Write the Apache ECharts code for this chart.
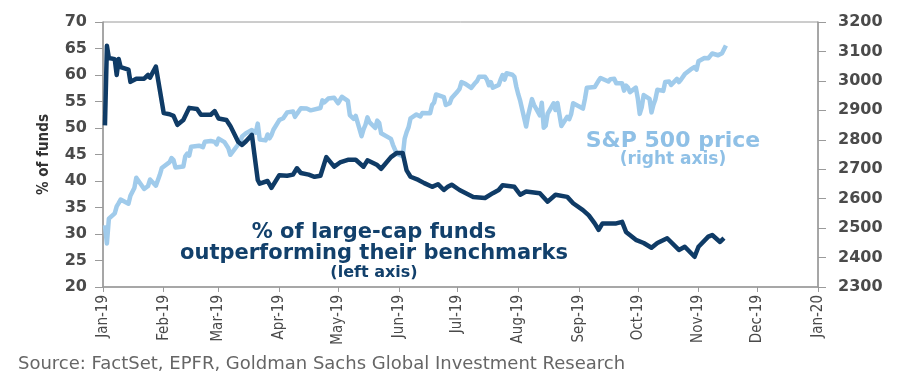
<!DOCTYPE html>
<html>
<head>
<meta charset="utf-8">
<script src="https://cdn.jsdelivr.net/npm/echarts@6/dist/echarts.min.js"></script>
<style>
html,body{margin:0;padding:0;background:#fff;}
#chart{width:914px;height:381px;}
</style>
</head>
<body>
<div id="chart"></div>
<script>
// ---- data ----
const monthNames = ['Jan','Feb','Mar','Apr','May','Jun','Jul','Aug','Sep','Oct','Nov','Dec'];
const leftTicks = [20, 70, 5];
const rightTicks = [2300, 3200, 100];

// % of large-cap funds outperforming their benchmarks (left axis)
const fundDays = ['01-02','01-03','01-04','01-07','01-08','01-09','01-10','01-14','01-15','01-18','01-22','01-24','01-25','01-28','01-30',
  '02-01','02-04','02-06','02-08','02-11','02-14','02-18','02-20','02-25','02-27',
  '03-01','03-05','03-07','03-11','03-13','03-15','03-18','03-19','03-21','03-22','03-26','03-28',
  '04-01','04-05','04-08','04-10','04-12','04-16','04-19','04-22','04-25','04-29',
  '05-02','05-06','05-10','05-14','05-16','05-21','05-23','05-28','05-31',
  '06-03','06-05','06-07','06-11','06-14','06-18','06-21','06-24','06-26','06-28',
  '07-02','07-09','07-15','07-19','07-22','07-24','07-30',
  '08-02','08-05','08-12','08-16','08-20','08-26','08-29',
  '09-03','09-06','09-09','09-11','09-13','09-20','09-23','09-25','09-30',
  '10-04','10-08','10-11','10-16','10-22','10-25','10-30',
  '11-01','11-06','11-08','11-12','11-14'];
const fundPct = [50.5,65.5,63.2,63.0,60.0,63.0,61.5,61.0,58.7,59.3,59.3,60.0,59.5,61.6,57.2,
  52.8,52.6,52.3,50.6,51.5,53.8,53.6,52.5,52.5,53.2,
  51.8,51.5,50.4,47.4,46.8,47.5,48.7,48.5,40.2,39.5,40.0,38.7,
  41.1,41.0,41.2,42.4,41.5,41.2,40.8,41.0,44.5,42.7,
  43.5,44.0,44.0,42.7,43.9,43.0,42.3,44.5,45.3,
  45.3,42.0,40.8,40.2,39.6,38.9,39.4,38.3,38.9,39.3,
  38.3,37.0,36.8,37.7,38.3,39.2,38.9,
  37.4,38.0,37.7,36.1,37.4,37.0,35.8,
  34.5,33.5,32.0,30.8,32.0,32.0,32.3,30.4,28.9,
  28.3,27.4,28.3,29.2,27.0,27.6,25.7,
  27.6,29.5,29.8,28.5,29.2];

// S&P 500 price (right axis)
const spxDays = ['01-02','01-03','01-04','01-07','01-08','01-09','01-10','01-11','01-14','01-15','01-16','01-17','01-18','01-22','01-23','01-24','01-25','01-28','01-29','01-30','01-31',
  '02-01','02-04','02-05','02-06','02-07','02-08','02-11','02-12','02-13','02-14','02-15','02-19','02-20','02-21','02-22','02-25','02-26','02-27','02-28',
  '03-01','03-04','03-05','03-06','03-07','03-08','03-11','03-12','03-13','03-14','03-15','03-18','03-19','03-20','03-21','03-22','03-25','03-26','03-27','03-28','03-29',
  '04-01','04-02','04-03','04-04','04-05','04-08','04-09','04-10','04-11','04-12','04-15','04-16','04-17','04-18','04-22','04-23','04-24','04-25','04-26','04-29','04-30',
  '05-01','05-02','05-03','05-06','05-07','05-08','05-09','05-10','05-13','05-14','05-15','05-16','05-17','05-20','05-21','05-22','05-23','05-24','05-28','05-29','05-30','05-31',
  '06-03','06-04','06-05','06-06','06-07','06-10','06-11','06-12','06-13','06-14','06-17','06-18','06-19','06-20','06-21','06-24','06-25','06-26','06-27','06-28',
  '07-01','07-02','07-03','07-05','07-08','07-09','07-10','07-11','07-12','07-15','07-16','07-17','07-18','07-19','07-22','07-23','07-24','07-25','07-26','07-29','07-30','07-31',
  '08-01','08-02','08-05','08-06','08-07','08-08','08-09','08-12','08-13','08-14','08-15','08-16','08-19','08-20','08-21','08-22','08-23','08-26','08-27','08-28','08-29','08-30',
  '09-03','09-04','09-05','09-06','09-09','09-10','09-11','09-12','09-13','09-16','09-17','09-18','09-19','09-20','09-23','09-24','09-25','09-26','09-27','09-30',
  '10-01','10-02','10-03','10-04','10-07','10-08','10-09','10-10','10-11','10-14','10-15','10-16','10-17','10-18','10-21','10-22','10-23','10-24','10-25','10-28','10-29','10-30','10-31',
  '11-01','11-04','11-05','11-06','11-07','11-08','11-11','11-12','11-13','11-14','11-15'];
const spxClose = [2510,2448,2532,2550,2574,2585,2597,2596,2583,2610,2616,2636,2671,2633,2639,2643,2665,2644,2640,2681,2704,
  2707,2724,2738,2731,2706,2708,2709,2744,2753,2746,2776,2780,2785,2775,2793,2796,2794,2793,2784,
  2804,2792,2789,2771,2749,2743,2784,2792,2811,2808,2822,2833,2832,2824,2855,2801,2798,2818,2805,2816,2834,
  2867,2867,2873,2879,2893,2896,2878,2888,2888,2907,2906,2908,2900,2905,2908,2934,2927,2926,2940,2943,2946,
  2924,2918,2946,2932,2884,2880,2871,2881,2812,2835,2851,2876,2860,2840,2865,2857,2822,2826,2803,2783,2789,2752,
  2744,2804,2826,2843,2873,2886,2885,2879,2891,2887,2890,2918,2926,2954,2950,2945,2918,2914,2924,2942,
  2964,2973,2996,2990,2976,2980,2993,3000,3014,3014,3004,2985,2996,2977,2986,3005,3020,3004,3026,3021,3014,2980,
  2954,2932,2845,2882,2884,2938,2919,2883,2926,2841,2848,2889,2924,2901,2925,2923,2847,2878,2870,2888,2924,2926,
  2906,2938,2977,2979,2979,2979,3001,3010,3007,2998,3006,3007,3007,2992,2992,2967,2984,2977,2962,2977,
  2941,2888,2910,2952,2939,2893,2919,2938,2970,2966,2996,2990,2998,2986,3007,2996,3004,3010,3023,3039,3036,3047,3038,
  3067,3078,3075,3077,3085,3093,3087,3091,3094,3097,3120];

// ---- build ----
function pairs(days, vals) {
  return days.map((d, i) => ['2019-' + d, vals[i]]);
}
const chart = echarts.init(document.getElementById('chart'), null, {renderer: 'canvas'});
const axisGrey = '#9a9a9a';
const labelColor = '#4a4a4a';
const narrow = "'Liberation Sans Narrow','DejaVu Sans Condensed',sans-serif";
const wide = "'DejaVu Sans',sans-serif";

chart.setOption({
  animation: false,
  backgroundColor: '#ffffff',
  grid: {left: 103, right: 96, top: 22, bottom: 94, show: true, borderColor: axisGrey, borderWidth: 1},
  xAxis: {
    type: 'time',
    min: new Date(2019, 0, 1).getTime(),
    max: new Date(2020, 0, 1).getTime(),
    minInterval: 28 * 86400000,
    maxInterval: 31 * 86400000,
    splitNumber: 12,
    axisLine: {show: true, lineStyle: {color: axisGrey, width: 1.5}},
    axisTick: {show: true, length: 5, lineStyle: {color: axisGrey, width: 1}},
    minorTick: {show: false},
    splitLine: {show: false},
    axisLabel: {
      rotate: 90, margin: 8, color: labelColor, fontFamily: narrow, fontSize: 15,
      showMinLabel: true, showMaxLabel: true, hideOverlap: false,
      formatter: function (v) {
        const d = new Date(v);
        return monthNames[d.getMonth()] + '-' + String(d.getFullYear()).slice(2);
      }
    }
  },
  yAxis: [{
    type: 'value', position: 'left',
    min: leftTicks[0], max: leftTicks[1], interval: leftTicks[2],
    name: '% of funds', nameLocation: 'middle', nameGap: 51,
    nameTextStyle: {fontFamily: narrow, fontWeight: 'bold', fontSize: 15, color: '#333'},
    axisLine: {show: true, lineStyle: {color: axisGrey, width: 1.5}},
    axisTick: {show: true, length: 8, lineStyle: {color: axisGrey, width: 1}},
    splitLine: {show: false},
    axisLabel: {margin: 16, color: labelColor, fontFamily: wide, fontWeight: 'bold', fontSize: 16,
      formatter: function (v) { return String(v); }}
  }, {
    type: 'value', position: 'right',
    min: rightTicks[0], max: rightTicks[1], interval: rightTicks[2],
    axisLine: {show: true, lineStyle: {color: axisGrey, width: 1.5}},
    axisTick: {show: true, length: 8, lineStyle: {color: axisGrey, width: 1}},
    splitLine: {show: false},
    axisLabel: {margin: 20, color: labelColor, fontFamily: wide, fontWeight: 'bold', fontSize: 16,
      formatter: function (v) { return String(v); }}
  }],
  series: [{
    name: 'S&P 500 price', type: 'line', yAxisIndex: 1,
    data: pairs(spxDays, spxClose),
    showSymbol: false, symbol: 'none',
    lineStyle: {color: '#a0cbeb', width: 4.5, join: 'round'},
    z: 2
  }, {
    name: '% of large-cap funds', type: 'line', yAxisIndex: 0,
    data: pairs(fundDays, fundPct),
    showSymbol: false, symbol: 'none',
    lineStyle: {color: '#0f3b66', width: 4.5, join: 'round'},
    z: 3
  }],
  graphic: [
    {type: 'text', x: 673, y: 141, z: 10, style: {text: 'S&P 500 price', font: "bold 22px 'DejaVu Sans'", fill: '#8fc0e6', align: 'center', verticalAlign: 'middle', textAlign: 'center', textVerticalAlign: 'middle'}},
    {type: 'text', x: 673, y: 160, z: 10, style: {text: '(right axis)', font: "bold 17px 'DejaVu Sans'", fill: '#8fc0e6', align: 'center', verticalAlign: 'middle', textAlign: 'center', textVerticalAlign: 'middle'}},
    {type: 'text', x: 374, y: 233, z: 10, style: {text: '% of large-cap funds', font: "bold 21px 'DejaVu Sans'", fill: '#12406b', align: 'center', verticalAlign: 'middle', textAlign: 'center', textVerticalAlign: 'middle'}},
    {type: 'text', x: 374, y: 254, z: 10, style: {text: 'outperforming their benchmarks', font: "bold 21px 'DejaVu Sans'", fill: '#12406b', align: 'center', verticalAlign: 'middle', textAlign: 'center', textVerticalAlign: 'middle'}},
    {type: 'text', x: 374, y: 273, z: 10, style: {text: '(left axis)', font: "bold 16px 'DejaVu Sans'", fill: '#12406b', align: 'center', verticalAlign: 'middle', textAlign: 'center', textVerticalAlign: 'middle'}},
    {type: 'text', x: 18, y: 364, z: 10, style: {text: 'Source: FactSet, EPFR, Goldman Sachs Global Investment Research', font: "18px 'DejaVu Sans'", fill: '#666666', align: 'left', verticalAlign: 'middle', textAlign: 'left', textVerticalAlign: 'middle'}}
  ]
});
</script>
</body>
</html>
